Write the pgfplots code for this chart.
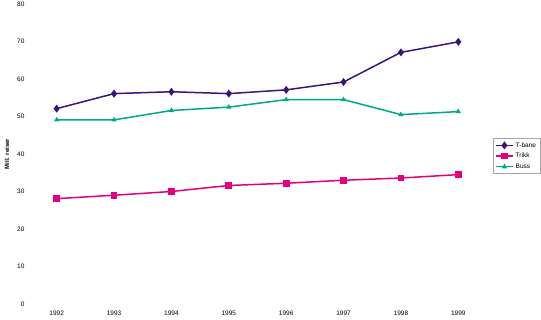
\documentclass[border=0pt]{standalone}
\usepackage{fontspec}
\setmainfont{Liberation Sans}
\usepackage{pgfplots}
\pgfplotsset{compat=1.18}
\definecolor{tbane}{HTML}{3C1478}
\definecolor{trikk}{HTML}{E3007E}
\definecolor{buss}{HTML}{00A88A}
\begin{document}
\begin{tikzpicture}[x=1pt,y=1pt]
\begin{axis}[
  at={(0,0)}, anchor=south west,
  scale only axis, width=459pt, height=300pt,
  xmin=1991.5, xmax=1999.5, ymin=0, ymax=80,
  xtick={1992,...,1999}, ytick={0,10,...,80},
  xticklabel style={/pgf/number format/1000 sep=},
  axis line style={draw=none}, major tick style={draw=none},
  tick label style={font=\fontsize{6.5}{7}\selectfont},
  /pgf/number format/assume math mode=true,
  xticklabel shift=3pt, yticklabel shift=0pt,
  ylabel={\bfseries Mill. reiser}, ylabel style={font=\fontsize{6}{7}\selectfont, at={(axis description cs:-0.046,0.5)}, anchor=center},
  legend style={at={(1.013,0.553)}, anchor=north west, draw=gray!70, font=\fontsize{6.5}{7.5}\selectfont, row sep=0.5pt, inner sep=2pt},
  legend cell align=left,
]
\addplot[tbane, line width=1.5pt, mark=diamond*, mark size=2.8pt] coordinates {
(1992,52.1) (1993,56.1) (1994,56.6) (1995,56.1) (1996,57.1) (1997,59.2) (1998,67.1) (1999,69.9)};
\addlegendentry{T-bane}
\addplot[trikk, line width=1.5pt, mark=square*, mark size=2.6pt] coordinates {
(1992,28.1) (1993,29.0) (1994,30.0) (1995,31.6) (1996,32.2) (1997,33.0) (1998,33.6) (1999,34.5)};
\addlegendentry{Trikk}
\addplot[buss, line width=1.5pt, mark=triangle*, mark size=1.6pt] coordinates {
(1992,49.1) (1993,49.1) (1994,51.6) (1995,52.5) (1996,54.5) (1997,54.5) (1998,50.5) (1999,51.3)};
\addlegendentry{Buss}
\end{axis}
\pgfresetboundingbox
\path (-28pt,-16pt) rectangle (513pt,304pt);
\end{tikzpicture}
\end{document}
